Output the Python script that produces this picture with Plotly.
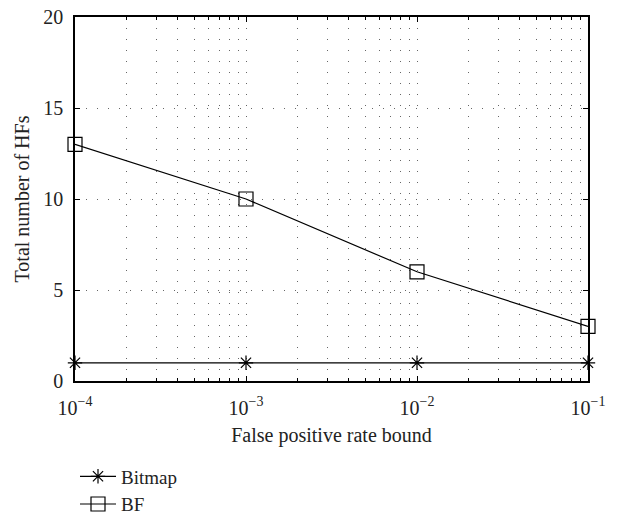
import plotly.graph_objects as go

# False positive rate bounds (x) and number of hash functions (y)
fp_bound = [1e-4, 1e-3, 1e-2, 1e-1]
bitmap_hfs = [1, 1, 1, 1]
bf_hfs = [13, 10, 6, 3]

x_tick_vals = [1e-4, 1e-3, 1e-2, 1e-1]
x_tick_text = ["10<sup>\u22124</sup>", "10<sup>\u22123</sup>", "10<sup>\u22122</sup>", "10<sup>\u22121</sup>"]
minor_vals = [m * d for d in (1e-4, 1e-3, 1e-2) for m in range(2, 10)]
y_tick_vals = [0, 5, 10, 15, 20]

FONT = "Liberation Serif"
TXT = "#222"
FS = 20

fig = go.Figure()
fig.add_trace(go.Scatter(
    x=fp_bound, y=bitmap_hfs, name="Bitmap", mode="lines+markers",
    line=dict(color="black", width=1.2),
    marker=dict(symbol="asterisk-open", size=12, color="black",
                line=dict(color="black", width=1.2)),
    cliponaxis=False,
))
fig.add_trace(go.Scatter(
    x=fp_bound, y=bf_hfs, name="BF", mode="lines+markers",
    line=dict(color="black", width=1.2),
    marker=dict(symbol="square-open", size=14, color="black",
                line=dict(color="black", width=1.2)),
    cliponaxis=False,
))

grid_dash = "1px,10px"
fig.update_xaxes(
    type="log", range=[-4.00001, -0.99999],
    tickvals=x_tick_vals, ticktext=x_tick_text,
    ticks="inside", ticklen=5, tickcolor="black", ticklabelstandoff=8,
    showline=True, linecolor="black", linewidth=1.5, mirror="ticks",
    showgrid=True, gridcolor="#666", griddash=grid_dash, gridwidth=1,
    minor=dict(tickvals=minor_vals, ticks="inside", ticklen=3, tickcolor="black",
               showgrid=True, gridcolor="#666", griddash=grid_dash, gridwidth=1),
    zeroline=False, automargin=False,
    title=dict(text="False positive rate bound", font=dict(family=FONT, size=FS, color=TXT), standoff=10),
    tickfont=dict(family=FONT, size=FS, color=TXT),
)
fig.update_yaxes(
    range=[0, 20], tickvals=y_tick_vals,
    ticks="inside", ticklen=5, tickcolor="black", ticklabelstandoff=6,
    showline=True, linecolor="black", linewidth=1.5, mirror="ticks",
    showgrid=True, gridcolor="#666", griddash=grid_dash, gridwidth=1,
    zeroline=False, automargin=False,
    title=dict(text="Total number of HFs", font=dict(family=FONT, size=FS, color=TXT), standoff=8),
    tickfont=dict(family=FONT, size=FS, color=TXT),
)

fig.update_layout(
    width=618, height=517,
    margin=dict(l=75, r=30, t=17, b=136, autoexpand=False),
    paper_bgcolor="white", plot_bgcolor="white",
    showlegend=True,
    legend=dict(x=0, y=-0.21, xanchor="left", yanchor="top",
                font=dict(family=FONT, size=19, color=TXT),
                bgcolor="rgba(0,0,0,0)", itemwidth=36, tracegroupgap=0),
    font=dict(family=FONT),
)

fig.write_html("out.html")
